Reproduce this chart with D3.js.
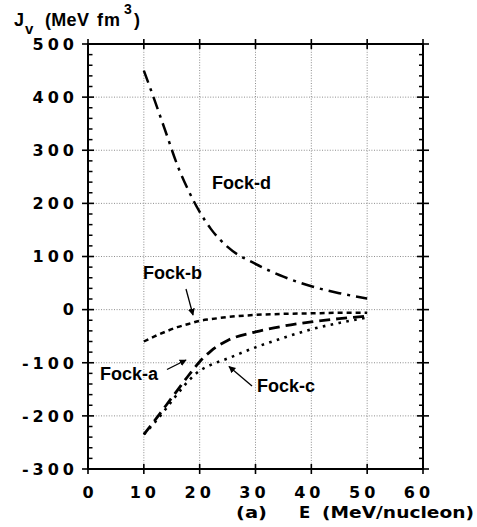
<!DOCTYPE html>
<html>
<head>
<meta charset="utf-8">
<script src="https://cdn.jsdelivr.net/npm/d3@7/dist/d3.min.js"></script>
<style>
  html, body { margin: 0; padding: 0; background: #fff; }
  svg { display: block; }
  text { font-family: "Liberation Sans", Arial, Helvetica, sans-serif; font-weight: bold; fill: #000; }
  text.wide { font-family: "DejaVu Sans", Verdana, sans-serif; }
</style>
</head>
<body>
<svg id="chart" width="477" height="527"></svg>
<script>
// Incident energy (MeV/nucleon) at which each Fock term was evaluated
const energy = [10, 12, 14, 16, 18, 20, 22, 25, 30, 35, 40, 45, 50];

// Volume integrals J_v (MeV fm^3) of each exchange contribution
const fockA = [-235, -208, -180, -152, -124, -98, -78, -58, -42, -31, -23, -17, -12];
const fockB = [-60, -50, -41, -33, -27, -21, -18, -14, -10, -8, -7, -6, -6];
const fockC = [-235, -212, -186, -159, -134, -115, -104, -92, -71, -53, -37, -25, -15];
const fockD = [450, 392, 332, 272, 224, 184, 152, 118, 86, 62, 44, 31, 21];

const xTicks = [0, 10, 20, 30, 40, 50, 60];
const yTicks = [-300, -200, -100, 0, 100, 200, 300, 400, 500];
const yMinorStep = 20;

const svg = d3.select("#chart");
const plotL = 88, plotR = 423, plotT = 44, plotB = 469;

const x = d3.scaleLinear().domain([0, 60]).range([plotL, plotR]);
const y = d3.scaleLinear().domain([-300, 500]).range([plotB, plotT]);

// dotted grid at the interior major ticks
const grid = svg.append("g").attr("stroke", "#808080").attr("stroke-width", 0.9)
  .attr("stroke-dasharray", "1,1.6");
xTicks.slice(1, -1).forEach(v => grid.append("line")
  .attr("x1", x(v)).attr("x2", x(v)).attr("y1", plotT).attr("y2", plotB));
yTicks.slice(1, -1).forEach(v => grid.append("line")
  .attr("x1", plotL).attr("x2", plotR).attr("y1", y(v)).attr("y2", y(v)));

// frame with crossing major ticks and inward minor ticks on the vertical sides
const frame = svg.append("g").attr("stroke", "#000");
frame.append("rect").attr("x", plotL).attr("y", plotT)
  .attr("width", plotR - plotL).attr("height", plotB - plotT)
  .attr("fill", "none").attr("stroke-width", 2);

const minor = d3.range(-300, 500 + 1, yMinorStep).filter(v => v % 100 !== 0);
minor.forEach(v => {
  frame.append("line").attr("x1", plotL).attr("x2", plotL + 4.5)
    .attr("y1", y(v)).attr("y2", y(v)).attr("stroke-width", 1.5);
  frame.append("line").attr("x1", plotR - 4).attr("x2", plotR)
    .attr("y1", y(v)).attr("y2", y(v)).attr("stroke-width", 1.5);
});
yTicks.forEach(v => {
  frame.append("line").attr("x1", plotL - 6).attr("x2", plotL + 6)
    .attr("y1", y(v)).attr("y2", y(v)).attr("stroke-width", 1.6);
  frame.append("line").attr("x1", plotR - 6).attr("x2", plotR + 6)
    .attr("y1", y(v)).attr("y2", y(v)).attr("stroke-width", 1.6);
});
xTicks.forEach(v => {
  frame.append("line").attr("x1", x(v)).attr("x2", x(v))
    .attr("y1", plotT - 5).attr("y2", plotT + 5).attr("stroke-width", 1.6);
  frame.append("line").attr("x1", x(v)).attr("x2", x(v))
    .attr("y1", plotB - 5).attr("y2", plotB + 5).attr("stroke-width", 1.6);
});

// tick labels in a wide bold face with open tracking
const spacing = 4;
svg.append("g").selectAll("text").data(yTicks).join("text")
  .attr("class", "wide")
  .attr("x", 74 + spacing).attr("y", d => y(d))
  .attr("dy", "0.36em").attr("text-anchor", "end")
  .attr("font-size", 16).attr("letter-spacing", spacing)
  .text(d => d);
svg.append("g").selectAll("text").data(xTicks).join("text")
  .attr("class", "wide")
  .attr("x", d => x(d) + spacing / 2 - d * 0.1).attr("y", 497.5)
  .attr("text-anchor", "middle")
  .attr("font-size", 16).attr("letter-spacing", spacing)
  .text(d => d);

// axis titles
const yTitle = svg.append("text").attr("font-size", 18).attr("y", 26);
yTitle.append("tspan").attr("x", 14).text("J");
yTitle.append("tspan").attr("x", 25).attr("y", 33.5).attr("font-size", 15).text("v");
yTitle.append("tspan").attr("x", 45).attr("y", 26).attr("letter-spacing", 0.3).text("(MeV");
yTitle.append("tspan").attr("x", 97).attr("y", 26).attr("letter-spacing", 1).text("fm");
svg.append("text").attr("x", 124).attr("y", 14).attr("font-size", 14).text("3");
svg.append("text").attr("x", 134).attr("y", 26).attr("font-size", 18).text(")");

const xTitle = svg.append("g").attr("font-size", 16.5);
xTitle.append("text").attr("class", "wide").attr("x", 236).attr("y", 517.5)
  .attr("textLength", 31).attr("lengthAdjust", "spacingAndGlyphs").text("(a)");
xTitle.append("text").attr("class", "wide").attr("x", 299).attr("y", 517.5).text("E");
xTitle.append("text").attr("class", "wide").attr("x", 322).attr("y", 517.5)
  .attr("textLength", 152).attr("lengthAdjust", "spacingAndGlyphs").text("(MeV/nucleon)");

// curves
const series = [
  { name: "Fock-d", values: fockD, dash: "13,6,3,6", width: 2.5 },
  { name: "Fock-b", values: fockB, dash: "5,4", width: 2.5 },
  { name: "Fock-a", values: fockA, dash: "11,6", width: 2.8 },
  { name: "Fock-c", values: fockC, dash: "2.6,5.4", width: 2.6 }
];
const line = d3.line().x((d, i) => x(energy[i])).y(d => y(d)).curve(d3.curveMonotoneX);
svg.append("g").selectAll("path").data(series).join("path")
  .attr("d", d => line(d.values))
  .attr("fill", "none").attr("stroke", "#000")
  .attr("stroke-width", d => d.width)
  .attr("stroke-dasharray", d => d.dash);

// curve labels
const labels = [
  { text: "Fock-d", x: 212, y: 189 },
  { text: "Fock-b", x: 143, y: 279 },
  { text: "Fock-a", x: 100, y: 380 },
  { text: "Fock-c", x: 257, y: 392 }
];
svg.append("g").selectAll("text").data(labels).join("text")
  .attr("x", d => d.x).attr("y", d => d.y).attr("font-size", 18)
  .text(d => d.text);

// pointer arrows from labels to curves
svg.append("defs").append("marker").attr("id", "head")
  .attr("viewBox", "0 0 10 10").attr("refX", 9).attr("refY", 5)
  .attr("markerWidth", 7).attr("markerHeight", 7).attr("markerUnits", "userSpaceOnUse")
  .attr("orient", "auto")
  .append("path").attr("d", "M0,0L10,5L0,10z").attr("fill", "#000");
const arrows = [
  { x1: 186, y1: 289, x2: 193, y2: 315 },
  { x1: 167, y1: 369.5, x2: 186, y2: 360 },
  { x1: 252, y1: 386, x2: 229, y2: 366.5 }
];
svg.append("g").selectAll("line").data(arrows).join("line")
  .attr("x1", d => d.x1).attr("y1", d => d.y1).attr("x2", d => d.x2).attr("y2", d => d.y2)
  .attr("stroke", "#000").attr("stroke-width", 1.3).attr("marker-end", "url(#head)");
</script>
</body>
</html>
